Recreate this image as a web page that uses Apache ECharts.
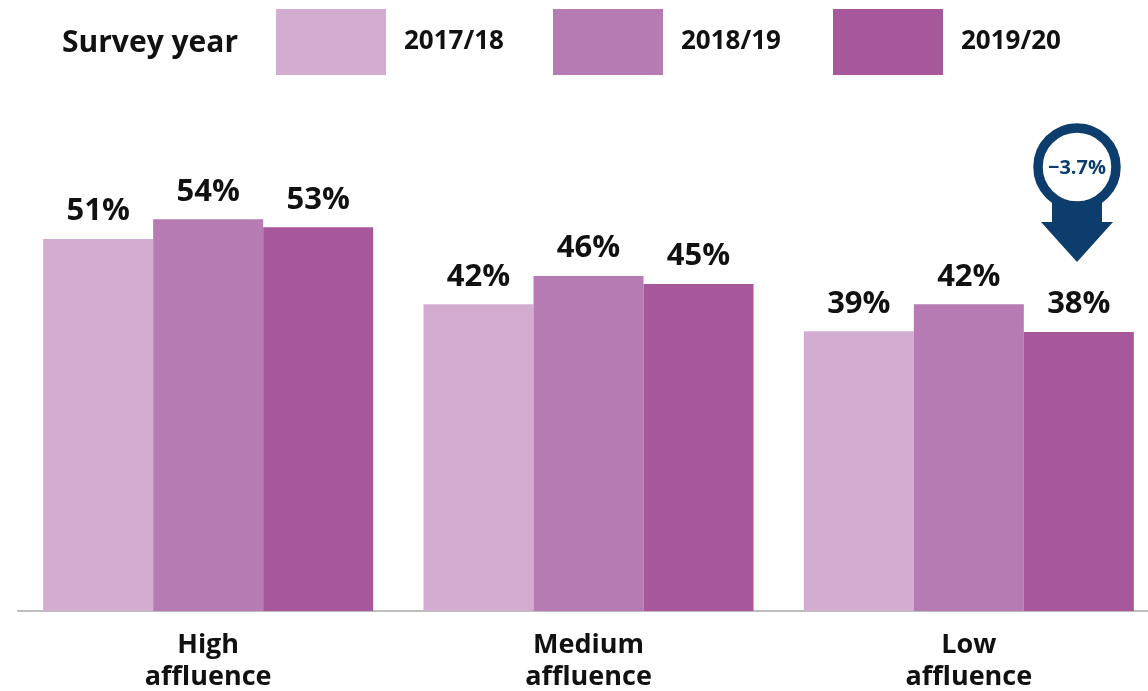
<!DOCTYPE html>
<html>
<head>
<meta charset="utf-8">
<script src="https://cdn.jsdelivr.net/npm/echarts@6/dist/echarts.min.js"></script>
<style>
html,body{margin:0;padding:0;background:#fff;}
#chart{width:1148px;height:691px;}
</style>
</head>
<body>
<div id="chart"></div>
<script>
const categories = ['High\naffluence', 'Medium\naffluence', 'Low\naffluence'];
const seriesNames = ['2017/18', '2018/19', '2019/20'];
const values2017 = [51.2, 42.2, 38.5];
const values2018 = [53.9, 46.1, 42.2];
const values2019 = [52.8, 45.0, 38.4];
const colors = ['#d3acd1', '#b67bb3', '#a6589a'];
const legendTitle = 'Survey year';
const changeLabel = '\u22123.7%';

const FONT = '"Open Sans", Roboto, "Noto Sans", sans-serif';
const NAVY = '#0c3d6c';

const chart = echarts.init(document.getElementById('chart'), null, {renderer: 'canvas'});

const allValues = [values2017, values2018, values2019];
const legendLeft = [276, 553, 833];

const series = seriesNames.map((name, i) => ({
  name: name,
  type: 'bar',
  data: allValues[i],
  barWidth: 110,
  barGap: '0%',
  itemStyle: {color: colors[i]},
  label: {
    show: true,
    position: 'top',
    distance: 12,
    formatter: p => Math.round(p.value) + '%',
    fontFamily: FONT,
    fontWeight: 'bold',
    fontSize: 31,
    color: '#111'
  }
}));

const legends = seriesNames.map((name, i) => ({
  data: [name],
  left: legendLeft[i],
  top: 9,
  padding: 0,
  itemWidth: 110,
  itemHeight: 66,
  icon: 'rect',
  selectedMode: false,
  textStyle: {
    fontFamily: FONT,
    fontWeight: 'bold',
    fontSize: 26,
    color: '#111',
    padding: [0, 0, 0, 13]
  }
}));

chart.setOption({
  animation: false,
  backgroundColor: '#fff',
  legend: legends,
  grid: {left: 18, width: 1141, top: 175, height: 436, containLabel: false, outerBoundsMode: 'none'},
  xAxis: {
    type: 'category',
    data: categories,
    axisTick: {show: false},
    axisLine: {show: true, lineStyle: {color: '#bdbdbd', width: 2}},
    axisLabel: {
      interval: 0,
      margin: 18,
      fontFamily: FONT,
      fontWeight: 'bold',
      fontSize: 27,
      lineHeight: 32,
      color: '#111'
    }
  },
  yAxis: {
    type: 'value',
    min: 0,
    max: 60,
    show: false,
    splitLine: {show: false}
  },
  series: series,
  graphic: [
    {
      type: 'text',
      x: 62,
      y: 43,
      style: {
        text: legendTitle,
        font: 'bold 30px ' + FONT,
        fill: '#111',
        verticalAlign: 'middle'
      }
    },
    {
      type: 'group',
      children: [
        {
          type: 'rect',
          shape: {x: 1052, y: 190, width: 50, height: 34},
          style: {fill: NAVY}
        },
        {
          type: 'polygon',
          shape: {points: [[1041, 222], [1113, 222], [1077, 262]]},
          style: {fill: NAVY}
        },
        {
          type: 'circle',
          shape: {cx: 1077, cy: 167, r: 39},
          style: {fill: '#fff', stroke: NAVY, lineWidth: 9.5}
        },
        {
          type: 'text',
          x: 1077,
          y: 168,
          style: {
            text: changeLabel,
            font: 'bold 20px ' + FONT,
            fill: NAVY,
            align: 'center',
            verticalAlign: 'middle'
          }
        }
      ]
    }
  ]
});
</script>
</body>
</html>
